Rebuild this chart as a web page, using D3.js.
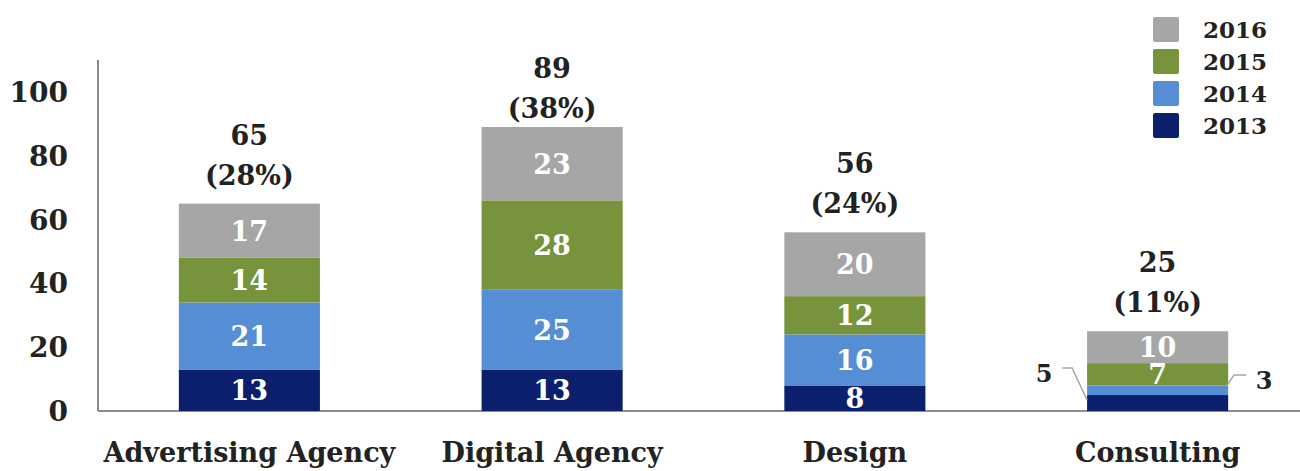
<!DOCTYPE html>
<html>
  <head>
    <meta charset="utf-8">
    <style>
      body { margin: 0; background: #ffffff; }
      text { font-family: "DejaVu Serif", serif; font-weight: bold; }
    </style>
  </head>
  <body>
    <svg id="chart"></svg>
  </body>
</html>

<script src="https://d3js.org/d3.v7.min.js"></script>

<script>
  const WIDTH = 1300;
  const HEIGHT = 471;

  // data
  const categories = ['Advertising Agency', 'Digital Agency', 'Design', 'Consulting'];
  const years = ['2013', '2014', '2015', '2016'];
  const v2013 = [13, 13, 8, 5];
  const v2014 = [21, 25, 16, 3];
  const v2015 = [14, 28, 12, 7];
  const v2016 = [17, 23, 20, 10];
  const totals = [65, 89, 56, 25];
  const shares = ['(28%)', '(38%)', '(24%)', '(11%)'];
  const yTicks = [0, 20, 40, 60, 80, 100];

  const colors = ['#0b1f6d', '#558ed5', '#77933c', '#a6a6a6'];

  let svg = d3.select('#chart')
    .attr('width', WIDTH)
    .attr('height', HEIGHT);

  let x = d3.scaleBand()
    .domain(categories)
    .range([98, 1309])
    .paddingInner(0.534)
    .paddingOuter(0.267);

  let y = d3.scaleLinear()
    .domain([0, 110])
    .range([411, 60]);

  // build rows for the stack
  let rows = categories.map(function(c, i) {
    return { cat: c, '2013': v2013[i], '2014': v2014[i], '2015': v2015[i], '2016': v2016[i] };
  });
  let series = d3.stack().keys(years)(rows);

  // axes lines
  svg.append('line')
    .attr('x1', 98).attr('x2', 98)
    .attr('y1', y(110)).attr('y2', y(0))
    .attr('stroke', '#8c8c8c').attr('stroke-width', 2);
  svg.append('line')
    .attr('x1', 98).attr('x2', WIDTH)
    .attr('y1', y(0)).attr('y2', y(0))
    .attr('stroke', '#8c8c8c').attr('stroke-width', 2);

  // y tick labels
  svg.selectAll('.ytick')
    .data(yTicks)
    .enter()
    .append('text')
    .attr('class', 'ytick')
    .attr('x', 68)
    .attr('y', d => y(d))
    .attr('dy', '0.36em')
    .attr('text-anchor', 'end')
    .attr('font-size', 28)
    .attr('fill', '#222')
    .text(d => d);

  // bars
  let groups = svg.selectAll('.series')
    .data(series)
    .enter()
    .append('g')
    .attr('fill', (d, i) => colors[i]);

  groups.selectAll('rect')
    .data(d => d)
    .enter()
    .append('rect')
    .attr('x', d => x(d.data.cat))
    .attr('y', d => y(d[1]))
    .attr('width', x.bandwidth())
    .attr('height', d => y(d[0]) - y(d[1]));

  // labels inside bars (skip the tiny consulting 2013/2014 pieces)
  series.forEach(function(s) {
    s.forEach(function(d) {
      let v = d[1] - d[0];
      if (d.data.cat === 'Consulting' && (s.key === '2013' || s.key === '2014')) return;
      svg.append('text')
        .attr('x', x(d.data.cat) + x.bandwidth() / 2)
        .attr('y', (y(d[0]) + y(d[1])) / 2)
        .attr('dy', '0.37em')
        .attr('text-anchor', 'middle')
        .attr('font-size', 27)
        .attr('fill', '#ffffff')
        .text(v);
    });
  });

  // totals above bars, kept inside the plot top
  categories.forEach(function(c, i) {
    let cx = x(c) + x.bandwidth() / 2;
    let first = Math.max(y(totals[i]) - 59, 78);
    svg.append('text')
      .attr('x', cx).attr('y', first)
      .attr('text-anchor', 'middle')
      .attr('font-size', 27).attr('fill', '#222')
      .text(totals[i]);
    svg.append('text')
      .attr('x', cx).attr('y', first + 40)
      .attr('text-anchor', 'middle')
      .attr('font-size', 27).attr('fill', '#222')
      .text(shares[i]);
  });

  // callouts for the small consulting pieces
  let cx0 = x('Consulting');
  let cx1 = cx0 + x.bandwidth();
  svg.append('polyline')
    .attr('points', [[cx0 - 25, y(13.5)], [cx0 - 15, y(13.5)], [cx0, y(3.4)]].join(' '))
    .attr('fill', 'none').attr('stroke', '#a6a6a6').attr('stroke-width', 1.5);
  svg.append('text')
    .attr('x', cx0 - 43).attr('y', y(11.9)).attr('dy', '0.36em')
    .attr('text-anchor', 'middle')
    .attr('font-size', 24).attr('fill', '#222')
    .text(v2013[3]);
  svg.append('polyline')
    .attr('points', [[cx1 + 18, y(11.3)], [cx1 + 6, y(11.3)], [cx1 - 1, y(8.1)]].join(' '))
    .attr('fill', 'none').attr('stroke', '#a6a6a6').attr('stroke-width', 1.5);
  svg.append('text')
    .attr('x', cx1 + 36).attr('y', y(9.7)).attr('dy', '0.36em')
    .attr('text-anchor', 'middle')
    .attr('font-size', 24).attr('fill', '#222')
    .text(v2014[3]);

  // x labels
  svg.selectAll('.xlab')
    .data(categories)
    .enter()
    .append('text')
    .attr('x', d => x(d) + x.bandwidth() / 2)
    .attr('y', 462)
    .attr('text-anchor', 'middle')
    .attr('font-size', 27)
    .attr('fill', '#222')
    .text(d => d);

  // legend, 2016 on top
  let legendYears = years.slice().reverse();
  let legend = svg.selectAll('.leg')
    .data(legendYears)
    .enter()
    .append('g')
    .attr('transform', (d, i) => 'translate(1153,' + (17 + i * 32) + ')');
  legend.append('rect')
    .attr('width', 26).attr('height', 25).attr('rx', 2)
    .attr('fill', d => colors[years.indexOf(d)]);
  legend.append('text')
    .attr('x', 50).attr('y', 13).attr('dy', '0.36em')
    .attr('font-size', 23).attr('fill', '#222')
    .text(d => d);
</script>
